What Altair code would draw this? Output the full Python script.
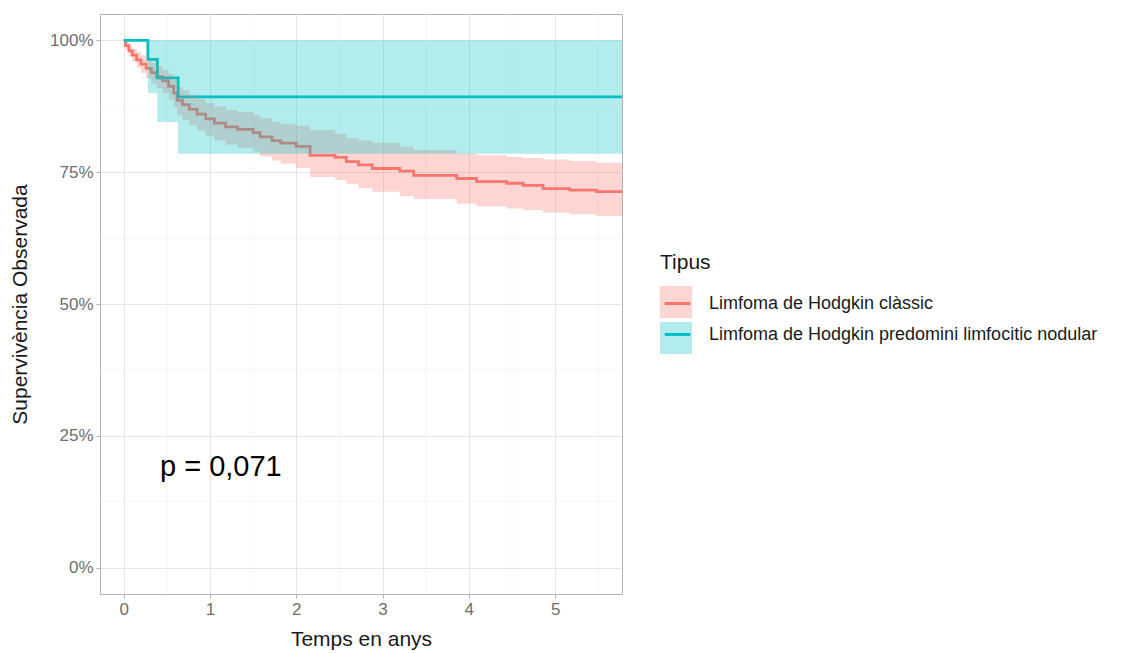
import altair as alt
import pandas as pd

# ---- data ----
groups = ["Limfoma de Hodgkin clàssic", "Limfoma de Hodgkin predomini limfocitic nodular"]

red_time = [0.00, 0.02, 0.06, 0.10, 0.15, 0.20, 0.26, 0.32, 0.38, 0.45, 0.52, 0.58, 0.62, 0.68,
            0.76, 0.85, 0.95, 1.05, 1.18, 1.32, 1.50, 1.58, 1.72, 1.82, 2.00, 2.16, 2.45, 2.58,
            2.72, 2.88, 3.20, 3.36, 3.86, 4.09, 4.44, 4.63, 4.86, 5.17, 5.48, 5.90]
red_surv = [1.000, 0.990, 0.980, 0.972, 0.963, 0.955, 0.947, 0.939, 0.931, 0.923, 0.913, 0.900,
            0.886, 0.878, 0.869, 0.860, 0.851, 0.843, 0.836, 0.831, 0.825, 0.817, 0.810, 0.805,
            0.799, 0.782, 0.778, 0.770, 0.764, 0.757, 0.752, 0.744, 0.738, 0.732, 0.729, 0.725,
            0.719, 0.716, 0.713, 0.713]
red_lower = [1.000, 0.982, 0.970, 0.960, 0.948, 0.938, 0.928, 0.918, 0.909, 0.900, 0.888, 0.874,
             0.858, 0.849, 0.839, 0.829, 0.819, 0.810, 0.802, 0.796, 0.789, 0.780, 0.772, 0.766,
             0.758, 0.741, 0.735, 0.728, 0.720, 0.713, 0.705, 0.699, 0.690, 0.685, 0.681, 0.678,
             0.673, 0.670, 0.667, 0.667]
red_upper = [1.000, 0.997, 0.990, 0.984, 0.978, 0.972, 0.965, 0.958, 0.951, 0.944, 0.936, 0.925,
             0.912, 0.905, 0.897, 0.889, 0.881, 0.874, 0.868, 0.864, 0.859, 0.852, 0.846, 0.842,
             0.838, 0.830, 0.823, 0.815, 0.810, 0.806, 0.798, 0.792, 0.786, 0.782, 0.779, 0.777,
             0.774, 0.771, 0.768, 0.768]

teal_time = [0.00, 0.28, 0.39, 0.63, 5.90]
teal_surv = [1.000, 0.964, 0.929, 0.893, 0.893]
teal_lower = [1.000, 0.900, 0.845, 0.785, 0.785]
teal_upper = [1.000, 1.000, 1.000, 1.000, 1.000]

x_ticks = [0, 1, 2, 3, 4, 5]
x_minor = [0.5, 1.5, 2.5, 3.5, 4.5, 5.5]
y_ticks = [0, 0.25, 0.5, 0.75, 1.0]
y_minor = [0.125, 0.375, 0.625, 0.875]
pval_text = "p = 0,071"
pval_x = 0.42
pval_y = 0.19

colors = ["#F8766D", "#00BFC4"]

df = pd.concat([
    pd.DataFrame({"t": red_time, "s": red_surv, "lo": red_lower, "hi": red_upper, "Tipus": groups[0]}),
    pd.DataFrame({"t": teal_time, "s": teal_surv, "lo": teal_lower, "hi": teal_upper, "Tipus": groups[1]}),
])

xs = alt.Scale(domain=[-0.275, 5.775], nice=False, zero=False)
ys = alt.Scale(domain=[-0.05, 1.05], nice=False, zero=False)
W, H = 522, 580
LX, LY = 560, 238

base = alt.Chart(df)

xminor = alt.Chart(pd.DataFrame({"v": x_minor})).mark_rule(color="#EFEFEF", strokeWidth=0.6).encode(
    x=alt.X("v:Q", scale=xs))
yminor = alt.Chart(pd.DataFrame({"v": y_minor})).mark_rule(color="#EFEFEF", strokeWidth=0.6).encode(
    y=alt.Y("v:Q", scale=ys))

lines = base.mark_line(interpolate="step-after", strokeWidth=2.8, clip=True).encode(
    x=alt.X("t:Q", scale=xs, title="Temps en anys",
            axis=alt.Axis(values=x_ticks, format="d", grid=True)),
    y=alt.Y("s:Q", scale=ys, title="Supervivència Observada",
            axis=alt.Axis(values=y_ticks, format=".0%", grid=True)),
    color=alt.Color("Tipus:N", scale=alt.Scale(domain=groups, range=colors),
                    legend=alt.Legend(orient="none", legendX=LX, legendY=LY,
                                      symbolType="M-0.8,0H0.8",
                                      symbolSize=1024, symbolStrokeWidth=3)),
)

bands = base.mark_area(interpolate="step-after", opacity=0.3, clip=True).encode(
    x=alt.X("t:Q", scale=xs),
    y=alt.Y("lo:Q", scale=ys),
    y2="hi:Q",
    fill=alt.Fill("Tipus:N", scale=alt.Scale(domain=groups, range=colors),
                  legend=alt.Legend(orient="none", legendX=LX, legendY=LY, symbolType="square",
                                    symbolSize=1024, symbolOpacity=0.3, symbolStrokeWidth=0,
                                    title=" ", labelExpr="''")),
)

ptext = alt.Chart(pd.DataFrame({"x": [pval_x], "y": [pval_y], "lab": [pval_text]})).mark_text(
    align="left", baseline="middle", fontSize=29, font="Liberation Sans", color="#000000"
).encode(x=alt.X("x:Q", scale=xs), y=alt.Y("y:Q", scale=ys), text="lab:N")

chart = alt.layer(xminor, yminor, lines, bands, ptext).resolve_scale(
    color="independent", fill="independent"
).properties(
    width=W, height=H,
    autosize=alt.AutoSizeParams(type="none"),
    padding={"left": 100, "top": 14, "right": 503, "bottom": 59},
).configure_view(
    stroke="#B3B3B3", strokeWidth=1
).configure_axis(
    domain=False, gridColor="#E3E3E3", gridWidth=0.9, tickColor="#B3B3B3", tickSize=4,
    labelColor="#6E6E6E", labelFont="Liberation Sans", labelFontSize=17,
    titleFont="Liberation Sans", titleFontSize=21, titleColor="#1A1A1A", titleFontWeight="normal",
    labelPadding=3,
).configure_axisY(
    titleX=-80, titleY=290, titleBaseline="middle", titleAngle=270
).configure_axisX(
    titleY=45, titleBaseline="middle"
).configure_legend(
    titleFont="Liberation Sans", titleFontSize=21, titleFontWeight="normal", titleColor="#1A1A1A",
    labelFont="Liberation Sans", labelFontSize=18, labelColor="#1A1A1A", rowPadding=4,
    titlePadding=13, labelOffset=14, labelLimit=0
)

chart.save("out.html", embed_options={"renderer": "svg", "actions": False})
